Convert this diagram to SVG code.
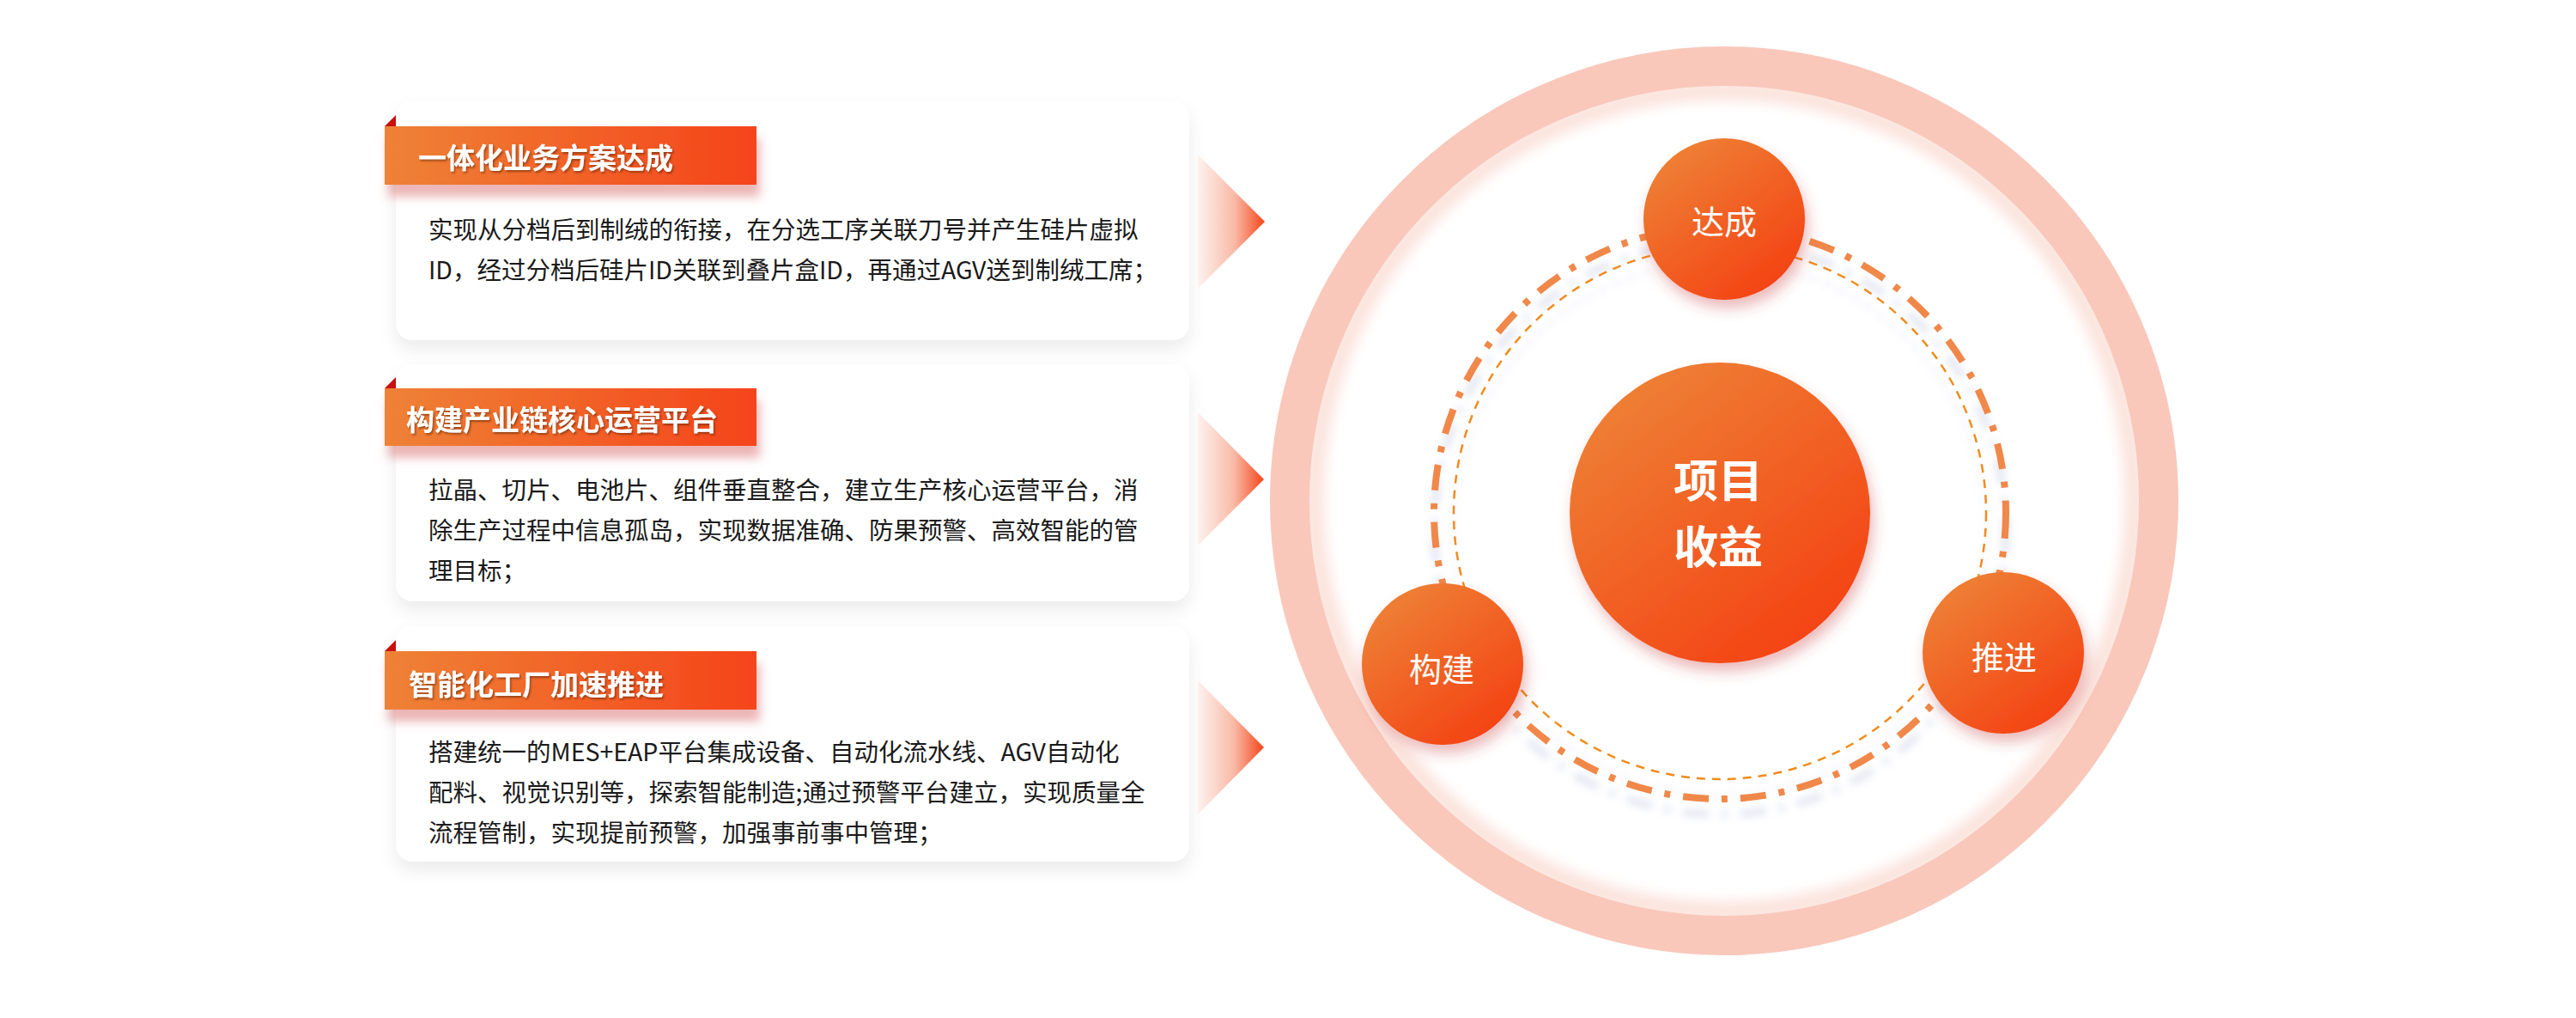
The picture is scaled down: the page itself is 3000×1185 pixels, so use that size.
<svg xmlns="http://www.w3.org/2000/svg" width="3000" height="1185" viewBox="0 0 3000 1185">
<defs>
  <linearGradient id="gTitle" x1="0" y1="0" x2="1" y2="0">
    <stop offset="0" stop-color="#ee8236"/>
    <stop offset="1" stop-color="#f5441a"/>
  </linearGradient>
  <linearGradient id="gBall" x1="0.2" y1="0.1" x2="0.8" y2="0.9">
    <stop offset="0" stop-color="#ee7e33"/>
    <stop offset="1" stop-color="#f44415"/>
  </linearGradient>
  <linearGradient id="gChev" x1="0" y1="0" x2="1" y2="0">
    <stop offset="0" stop-color="#fdf2ef"/>
    <stop offset="0.55" stop-color="#f9b9a6"/>
    <stop offset="1" stop-color="#f4461a"/>
  </linearGradient>
  <filter id="fCard" x="-10%" y="-20%" width="120%" height="150%">
    <feDropShadow dx="0" dy="10" stdDeviation="10" flood-color="#000" flood-opacity="0.08"/>
  </filter>
  <filter id="fTitle" x="-10%" y="-30%" width="125%" height="190%">
    <feDropShadow dx="4" dy="14" stdDeviation="6" flood-color="#d65a5a" flood-opacity="0.45"/>
  </filter>
  <filter id="fTxt" x="-5%" y="-20%" width="110%" height="150%">
    <feDropShadow dx="1.5" dy="2" stdDeviation="1.2" flood-color="#5a1a00" flood-opacity="0.55"/>
  </filter>
  <filter id="fBall" x="-30%" y="-30%" width="160%" height="170%">
    <feDropShadow dx="4" dy="10" stdDeviation="8" flood-color="#c83a3a" flood-opacity="0.35"/>
  </filter>
  <filter id="fRing" x="-10%" y="-10%" width="120%" height="125%">
    <feDropShadow dx="0" dy="18" stdDeviation="5" flood-color="#aab4d6" flood-opacity="0.35"/>
  </filter>
  <filter id="fBlur" x="-10%" y="-10%" width="120%" height="120%">
    <feGaussianBlur stdDeviation="8"/>
  </filter>
  <style>
    .card{fill:#ffffff;filter:url(#fCard)}
    .tbox{fill:url(#gTitle);filter:url(#fTitle)}
    .fold{fill:#c8100c}
    .ttl{font-family:"Noto Sans CJK SC","Noto Sans",sans-serif;font-weight:700;font-size:33px;fill:#ffffff;filter:url(#fTxt)}
    .body{font-family:"Noto Sans CJK SC","Noto Sans",sans-serif;font-size:28.5px;fill:#1a1a1a}
    .chev{fill:url(#gChev)}
    .ball{fill:url(#gBall);filter:url(#fBall)}
    .btxt{font-family:"Noto Sans CJK SC","Noto Sans",sans-serif;font-size:38px;fill:#ffffff;text-anchor:middle}
    .ctxt{font-family:"Noto Sans CJK SC","Noto Sans",sans-serif;font-weight:700;font-size:52px;fill:#ffffff;text-anchor:middle}
  </style>
</defs>
<rect width="3000" height="1185" fill="#ffffff"/>

<!-- big ring -->
<g id="outer-ring">
  <circle cx="2008" cy="583" r="478" fill="none" stroke="#fbe1da" stroke-width="22" filter="url(#fBlur)"/>
  <circle cx="2008" cy="583" r="506" fill="none" stroke="#f9c8bb" stroke-width="46"/>
</g>

<!-- decorative orbit rings -->
<g id="orbit" filter="url(#fRing)">
  <circle cx="2003" cy="597" r="333" fill="none" stroke="#f0884a" stroke-width="8" stroke-dasharray="30 15 7 15"/>
  <circle cx="2003" cy="597" r="310" fill="none" stroke="#f08c1c" stroke-width="2.5" stroke-dasharray="10 8"/>
</g>

<!-- cards -->
<g id="card1">
  <rect class="card" x="461" y="118" width="924" height="278" rx="20"/>
  <rect class="tbox" x="448" y="147" width="433" height="68"/>
  <polygon class="fold" points="448,147 461,134 461,147"/>
  <text class="ttl" x="487" y="196">一体化业务方案达成</text>
  <text class="body" x="499" y="278">实现从分档后到制绒的衔接，在分选工序关联刀号并产生硅片虚拟<tspan x="499" y="325">ID，经过分档后硅片ID关联到叠片盒ID，再通过AGV送到制绒工席；</tspan></text>
</g>
<g id="card2">
  <rect class="card" x="461" y="424" width="924" height="276" rx="20"/>
  <rect class="tbox" x="448" y="452" width="433" height="67"/>
  <polygon class="fold" points="448,452 461,439 461,452"/>
  <text class="ttl" x="473" y="501">构建产业链核心运营平台</text>
  <text class="body" x="499" y="581">拉晶、切片、电池片、组件垂直整合，建立生产核心运营平台，消<tspan x="499" y="628">除生产过程中信息孤岛，实现数据准确、防果预警、高效智能的管</tspan><tspan x="499" y="675">理目标；</tspan></text>
</g>
<g id="card3">
  <rect class="card" x="461" y="729" width="924" height="274" rx="20"/>
  <rect class="tbox" x="448" y="758" width="433" height="68"/>
  <polygon class="fold" points="448,758 461,745 461,758"/>
  <text class="ttl" x="476" y="809">智能化工厂加速推进</text>
  <text class="body" x="499" y="886">搭建统一的MES+EAP平台集成设备、自动化流水线、AGV自动化<tspan x="499" y="933">配料、视觉识别等，探索智能制造;通过预警平台建立，实现质量全</tspan><tspan x="499" y="980">流程管制，实现提前预警，加强事前事中管理；</tspan></text>
</g>

<!-- connectors (chevrons) -->
<g id="connectors">
  <polygon class="chev" points="1395,180 1473,258 1395,336"/>
  <polygon class="chev" points="1395,480 1472,558 1395,635"/>
  <polygon class="chev" points="1395,792 1472,870 1395,948"/>
</g>

<!-- nodes on orbit -->
<g id="node-center">
  <circle class="ball" cx="2003" cy="597" r="175"/>
  <text class="ctxt" x="2001" y="579">项目<tspan x="2001" y="656">收益</tspan></text>
</g>
<g id="node-dacheng">
  <circle class="ball" cx="2008" cy="255" r="94"/>
  <text class="btxt" x="2008" y="272">达成</text>
</g>
<g id="node-goujian">
  <circle class="ball" cx="1680" cy="773" r="94"/>
  <text class="btxt" x="1679" y="793">构建</text>
</g>
<g id="node-tuijin">
  <circle class="ball" cx="2333" cy="760" r="94"/>
  <text class="btxt" x="2334" y="779">推进</text>
</g>
</svg>
